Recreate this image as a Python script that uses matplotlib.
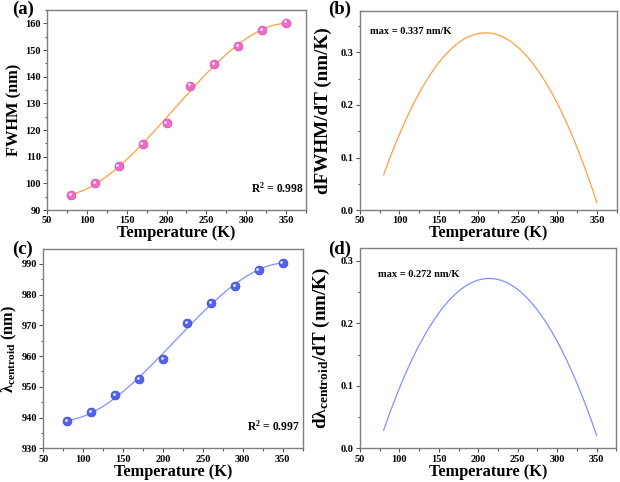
import numpy as np
import matplotlib
matplotlib.use("Agg")
import matplotlib.pyplot as plt
from matplotlib.ticker import MultipleLocator, AutoMinorLocator
from matplotlib.transforms import offset_copy

plt.rcParams['font.family'] = ['Liberation Serif', 'DejaVu Serif']
plt.rcParams['font.weight'] = 'bold'
plt.rcParams['mathtext.fontset'] = 'custom'
plt.rcParams['mathtext.rm'] = 'Liberation Serif:bold'
plt.rcParams['mathtext.it'] = 'Liberation Serif:italic:bold'
plt.rcParams['mathtext.bf'] = 'Liberation Serif:bold'

temperature = [80, 110, 140, 170, 200, 230, 260, 290, 320, 350]
fwhm = [95.6, 100.2, 106.5, 114.8, 122.7, 136.7, 144.7, 151.4, 157.5, 160.3]
centroid = [938.8, 941.7, 947.4, 952.6, 958.9, 970.6, 977.2, 982.8, 988.0, 990.3]
fwhm_r2 = "0.998"
centroid_r2 = "0.997"

T = np.array(temperature, float)
Tf = np.linspace(80, 350, 300)

def fit(y):
    p = np.polyfit(T, np.array(y, float), 3)
    return np.polyval(p, Tf), np.polyval(np.polyder(p), Tf)

fw_fit, fw_der = fit(fwhm)
ce_fit, ce_der = fit(centroid)

fig = plt.figure(figsize=(6.2, 4.82), dpi=100)
ax_a = fig.add_axes([0.0758, 0.564, 0.4177, 0.415])
ax_b = fig.add_axes([0.5806, 0.564, 0.414, 0.414])
ax_c = fig.add_axes([0.0699, 0.0699, 0.4181, 0.4129])
ax_d = fig.add_axes([0.5806, 0.0699, 0.4134, 0.4151])

orange = '#ff9f3f'
blue_line = '#8190ff'
pink = '#ee6cc8'
pink_edge = '#d94fb0'
blue = '#5463ea'
blue_edge = '#3f4ed0'
spine_c = '#7f7f7f'

def style(ax, ymaj):
    ax.set_xlim(50, 375)
    ax.xaxis.set_major_locator(MultipleLocator(50))
    ax.xaxis.set_minor_locator(AutoMinorLocator(2))
    ax.yaxis.set_major_locator(MultipleLocator(ymaj))
    ax.yaxis.set_minor_locator(AutoMinorLocator(2))
    for s in ax.spines.values():
        s.set_color(spine_c)
        s.set_linewidth(1.0)
    ax.tick_params(which='both', direction='out', color='#555555', labelsize=7.5, width=0.8, pad=1.5)
    ax.tick_params(which='major', length=3)
    ax.tick_params(which='minor', length=1.8)
    for lab in ax.get_xticklabels() + ax.get_yticklabels():
        lab.set_fontweight('bold')
    ax.set_xlabel('Temperature (K)', fontsize=11.8, fontweight='bold', labelpad=0)

def points(ax, y, face, edge):
    ax.plot(T, y, 'o', ms=6.3, mfc=face, mec=edge, mew=0.6, zorder=3)
    hl = offset_copy(ax.transData, fig=fig, x=-0.9, y=0.9, units='points')
    ax.plot(T, y, 'o', ms=2.0, mfc='white', mec='none', alpha=0.85, zorder=4, transform=hl)

# (a)
ax_a.plot(Tf, fw_fit, color=orange, lw=0.9)
points(ax_a, fwhm, pink, pink_edge)
style(ax_a, 10)
ax_a.set_ylim(90, 165)
ax_a.set_ylabel('FWHM (nm)', fontsize=11.8, fontweight='bold', labelpad=2)
ax_a.text(0.99, 0.075, 'R$^{2}$ = ' + fwhm_r2, transform=ax_a.transAxes, ha='right', va='bottom', fontsize=8.3)
fig.text(0.02, 0.998, '(a)', fontsize=13.5, fontweight='bold', va='top')

# (b)
ax_b.plot(Tf, fw_der, color=orange, lw=0.9)
style(ax_b, 0.1)
ax_b.set_ylim(0, 0.379)
ax_b.set_ylabel('dFWHM/dT (nm/K)', fontsize=13.8, fontweight='bold', labelpad=6)
ax_b.text(0.04, 0.893, 'max = %.3f nm/K' % fw_der.max(), transform=ax_b.transAxes, ha='left', va='center', fontsize=7.5)
fig.text(0.53, 0.998, '(b)', fontsize=13.5, fontweight='bold', va='top')

# (c)
ax_c.plot(Tf, ce_fit, color=blue_line, lw=0.9)
points(ax_c, centroid, blue, blue_edge)
style(ax_c, 10)
ax_c.set_ylim(930, 994.7)
ax_c.set_ylabel('λ$_{\\mathregular{centroid}}$ (nm)', fontsize=11.8, fontweight='bold', labelpad=2)
ax_c.text(0.99, 0.075, 'R$^{2}$ = ' + centroid_r2, transform=ax_c.transAxes, ha='right', va='bottom', fontsize=8.3)
fig.text(0.02, 0.5, '(c)', fontsize=13.5, fontweight='bold', va='top')

# (d)
ax_d.plot(Tf, ce_der, color=blue_line, lw=0.9)
style(ax_d, 0.1)
ax_d.set_ylim(0, 0.32)
ax_d.set_ylabel('dλ$_{\\mathregular{centroid}}$/dT (nm/K)', fontsize=13.8, fontweight='bold', labelpad=6)
ax_d.text(0.07, 0.87, 'max = %.3f nm/K' % ce_der.max(), transform=ax_d.transAxes, ha='left', va='center', fontsize=7.5)
fig.text(0.53, 0.5, '(d)', fontsize=13.5, fontweight='bold', va='top')

fig.savefig('out.png', dpi=100)
